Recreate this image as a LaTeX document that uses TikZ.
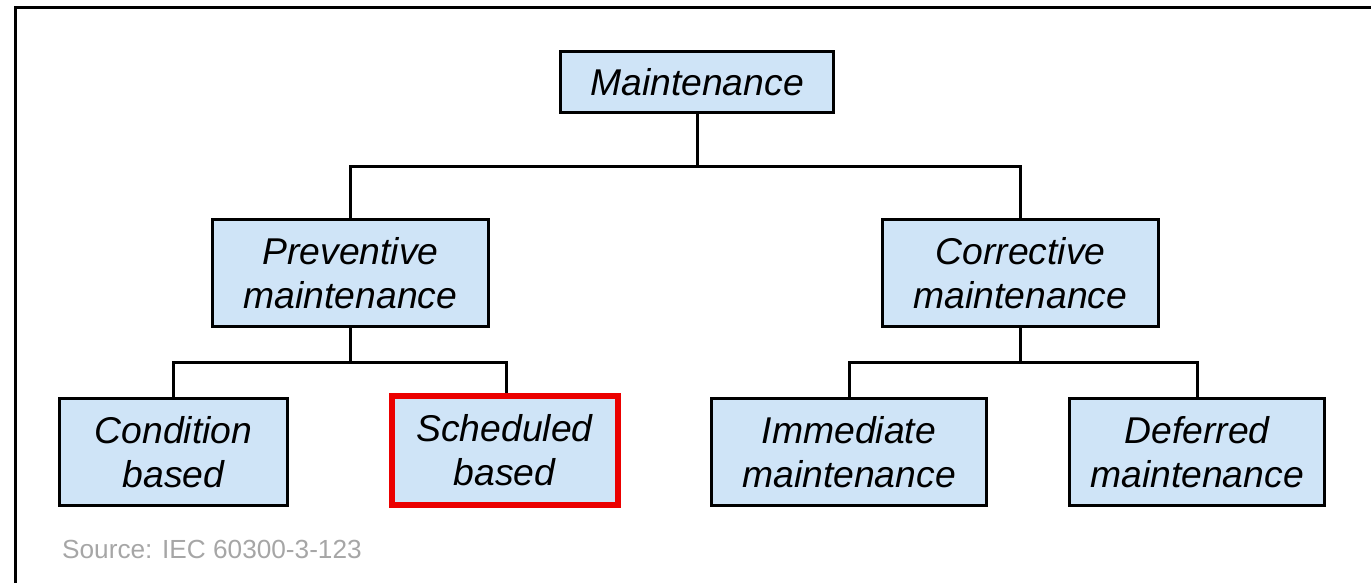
\documentclass[tikz,border=0pt]{standalone}
\usepackage{fontspec}
\setmainfont{Liberation Sans}
\definecolor{boxblue}{RGB}{207,228,247}
\definecolor{srcgray}{RGB}{166,166,166}
\definecolor{hired}{RGB}{235,0,0}
\begin{document}
\begin{tikzpicture}[x=1pt,y=-1pt,
  box/.style={draw=black, line width=2.5pt, fill=boxblue, align=center,
    inner sep=0pt, font=\fontsize{37.3}{44}\selectfont\itshape},
  conn/.style={draw=black, line width=3pt}]
\useasboundingbox (0,0) rectangle (1371,583);
\draw[line width=3pt] (15,600) -- (15,8) -- (1400,8);

\node[box, minimum width=273pt, minimum height=61pt] (m) at (697,82) {Maintenance};
\node[box, minimum width=276pt, minimum height=107pt] (p) at (350.5,273) {Preventive\\maintenance};
\node[box, minimum width=276pt, minimum height=107pt] (c) at (1020.5,273) {Corrective\\maintenance};
\node[box, minimum width=228pt, minimum height=107pt] (cb) at (173.5,452) {Condition\\based};
\node[box, draw=hired, line width=6pt, minimum width=226pt, minimum height=109pt] (sb) at (504.5,450.5) {Scheduled\\based};
\node[box, minimum width=275pt, minimum height=107pt] (im) at (849,452) {Immediate\\maintenance};
\node[box, minimum width=255pt, minimum height=107pt] (df) at (1197,452) {Deferred\\maintenance};

\coordinate (j1) at (697,167);
\coordinate (j2) at (350.5,362);
\coordinate (j3) at (1020.5,362);

\draw[conn] (m.south) -- (j1);
\draw[conn] (p.north) |- (j1) -| (c.north);
\draw[conn] (p.south) -- (j2);
\draw[conn] (cb.north) |- (j2) -| ([xshift=1.5pt]sb.north);
\draw[conn] (c.south) -- (j3);
\draw[conn] (im.north) |- (j3) -| (df.north);

\node[anchor=base west, inner sep=0pt, text=srcgray, font=\fontsize{26.2}{30}\selectfont] (src) at (62,558) {Source: IEC 60300-3-123};
\end{tikzpicture}
\end{document}
